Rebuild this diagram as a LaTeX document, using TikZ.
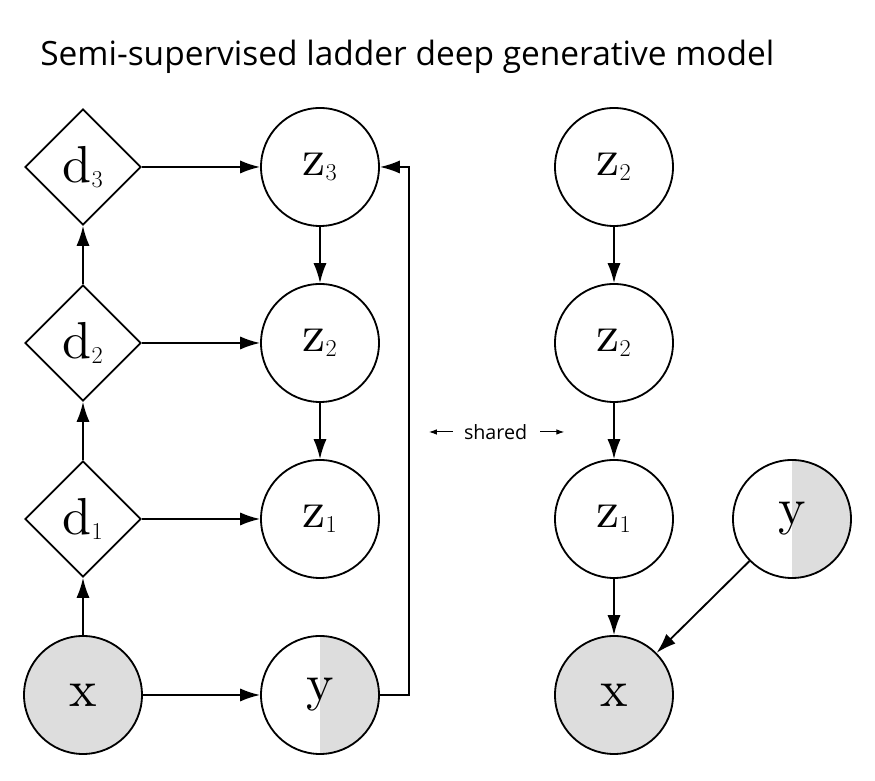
\documentclass[tikz,border=0pt]{standalone}
\usepackage{amsmath,amssymb}
\usepackage{graphicx}
\usepackage{fontspec}
\newfontfamily\titlefont{Open Sans}
\usetikzlibrary{arrows.meta,shapes.geometric}
\definecolor{obsgray}{HTML}{DDDDDD}
\newcommand{\lbl}[1]{\scalebox{3.7}{\fontsize{10}{12}\selectfont$\mathrm{#1}$}}

\begin{document}
\begin{tikzpicture}[
    var/.style={circle, draw, line width=1.3pt, minimum size=2.95cm, inner sep=0pt,
                font=\fontsize{38}{45}\selectfont},
    obs/.style={var, fill=obsgray},
    semi/.style={var, path picture={\fill[obsgray] (path picture bounding box.north)
                 rectangle (path picture bounding box.south east);}},
    det/.style={diamond, draw, line width=1.3pt, minimum width=2.9cm, minimum height=2.9cm,
                inner sep=0pt, font=\fontsize{38}{45}\selectfont},
    edge/.style={-{Latex[length=5mm,width=3.3mm]}, line width=1.3pt},
    tiny/.style={-{Latex[length=2mm,width=1.4mm]}, line width=0.7pt},
]
\useasboundingbox (0,0) rectangle (21.875,19.525);
\node[font=\titlefont\fontsize{23.8}{28}\selectfont, anchor=west, inner sep=0pt] (title) at (1.0,18.1)
    {Semi-supervised ladder deep generative model};
\node[det] (d3) at (2.075,15.35) {$\lbl{d}_{\scriptscriptstyle 3}$};
\node[det] (d2) at (2.075,10.95) {$\lbl{d}_{\scriptscriptstyle 2}$};
\node[det] (d1) at (2.075,6.55) {$\lbl{d}_{\scriptscriptstyle 1}$};
\node[obs] (x) at (2.075,2.15) {$\lbl{x}$};
\node[var] (z3) at (8.0,15.35) {$\lbl{z}_{\scriptscriptstyle 3}$};
\node[var] (z2) at (8.0,10.95) {$\lbl{z}_{\scriptscriptstyle 2}$};
\node[var] (z1) at (8.0,6.55) {$\lbl{z}_{\scriptscriptstyle 1}$};
\node[semi] (y) at (8.0,2.15) {$\lbl{y}$};
\node[var] (gz2top) at (15.35,15.35) {$\lbl{z}_{\scriptscriptstyle 2}$};
\node[var] (gz2) at (15.35,10.95) {$\lbl{z}_{\scriptscriptstyle 2}$};
\node[var] (gz1) at (15.35,6.55) {$\lbl{z}_{\scriptscriptstyle 1}$};
\node[obs] (gx) at (15.35,2.15) {$\lbl{x}$};
\node[semi] (gy) at (19.8,6.55) {$\lbl{y}$};
\node[font=\titlefont\fontsize{14}{17}\selectfont, inner sep=0pt] (shared) at (12.39,8.725) {shared};
\coordinate (sharedL) at ([xshift=-0.87cm]shared.west);
\coordinate (sharedR) at ([xshift=0.92cm]shared.east);

\draw[edge] (x) -- (d1);
\draw[edge] (d1) -- (d2);
\draw[edge] (d2) -- (d3);
\draw[edge] (d3) -- (z3);
\draw[edge] (d2) -- (z2);
\draw[edge] (d1) -- (z1);
\draw[edge] (x) -- (y);
\draw[edge] (z3) -- (z2);
\draw[edge] (z2) -- (z1);
\draw[edge] (y.east) -- ++(0.725,0) |- (z3.east);
\draw[edge] (gz2top) -- (gz2);
\draw[edge] (gz2) -- (gz1);
\draw[edge] (gz1) -- (gx);
\draw[edge] (gy) -- (gx);
\draw[tiny] ([xshift=-0.27cm]shared.west) -- (sharedL);
\draw[tiny] ([xshift=0.32cm]shared.east) -- (sharedR);
\end{tikzpicture}
\end{document}
